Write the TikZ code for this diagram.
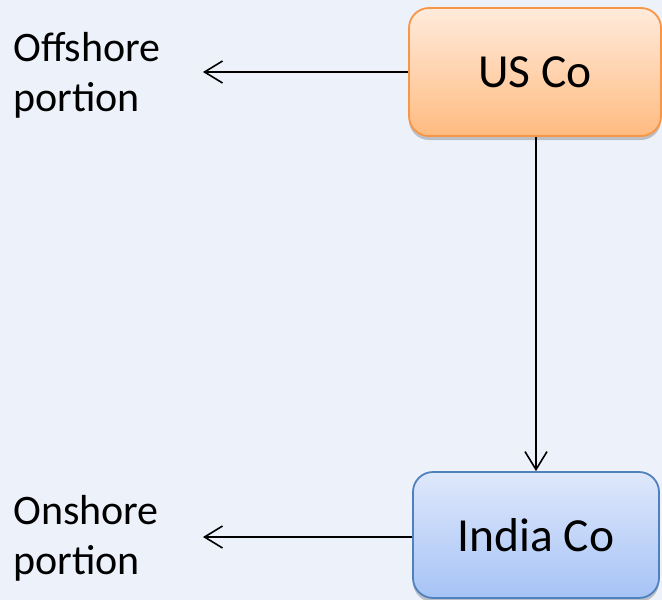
\documentclass[tikz,border=0pt]{standalone}
\usepackage{fontspec}
\setmainfont{Carlito}
\usetikzlibrary{arrows.meta, shadows, positioning}
\definecolor{bgblue}{HTML}{EDF1FA}
\definecolor{usline}{HTML}{F79646}
\definecolor{ustop}{HTML}{FFEBDC}
\definecolor{usbot}{HTML}{FFBB80}
\definecolor{inline}{HTML}{4F81BD}
\definecolor{intop}{HTML}{DFE8FB}
\definecolor{inbot}{HTML}{A6C3F6}
\tikzset{
  cobox/.style={rounded corners=20pt, line width=1.8pt, inner sep=0pt,
    font=\fontsize{47.5}{57}\selectfont,
    drop shadow={shadow xshift=0pt, shadow yshift=-4pt, opacity=.3, fill=black!70}},
  portion/.style={anchor=base west, align=left, inner sep=0pt,
    font=\fontsize{42}{50}\selectfont},
  link/.style={-{Straight Barb[length=18pt, width=22pt]}, line width=1.6pt}
}

\begin{document}
\begin{tikzpicture}[x=1pt, y=-1pt]
    \fill[bgblue] (0,0) rectangle (662,600);
    \useasboundingbox (0,0) rectangle (662,600);

    \node (usco) at (535,72) [cobox, draw=usline, top color=ustop, bottom color=usbot,
        minimum width=252pt, minimum height=128pt] {US Co};
    \node (indiaco) at (536,535) [cobox, draw=inline, top color=intop, bottom color=inbot,
        minimum width=246pt, minimum height=126pt] {India Co};

    % base of the last line
    \node (offshore) at (13,111) [portion] {Offshore\\portion};
    \node (onshore) at (13,574) [portion] {Onshore\\portion};
    \coordinate (offtip) at (203,72);
    \coordinate (ontip) at (203,537);

    \draw[link] (usco.west) -- (offtip);
    \draw[link] (indiaco.west |- ontip) -- (ontip);
    \draw[link] (indiaco.north |- usco.south) -- (indiaco.north);
\end{tikzpicture}
\end{document}
